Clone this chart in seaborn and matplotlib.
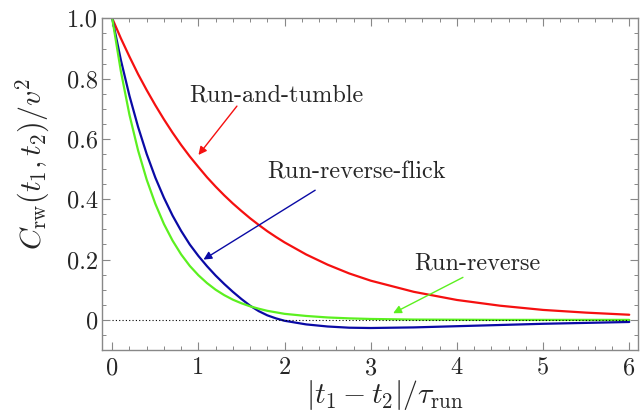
import pandas as pd
import matplotlib
matplotlib.use("Agg")
import matplotlib.pyplot as plt
import seaborn as sns

# time lag |t1 - t2| / tau_run
lag = [0.0, 0.1, 0.2, 0.3, 0.4, 0.5, 0.6, 0.7, 0.8, 0.9, 1.0,
       1.1, 1.2, 1.3, 1.4, 1.5, 1.6, 1.7, 1.8, 1.9, 2.0,
       2.25, 2.5, 2.75, 3.0, 3.5, 4.0, 4.5, 5.0, 5.5, 6.0]

# values
run_and_tumble = [1.000, 0.934, 0.873, 0.815, 0.762, 0.712, 0.665, 0.621, 0.580, 0.542, 0.507,
                  0.473, 0.442, 0.413, 0.386, 0.361, 0.337, 0.315, 0.294, 0.275, 0.257,
                  0.217, 0.183, 0.154, 0.130, 0.093, 0.066, 0.047, 0.033, 0.024, 0.017]
run_reverse_flick = [1.000, 0.862, 0.743, 0.640, 0.550, 0.472, 0.405, 0.346, 0.295, 0.250, 0.212,
                     0.178, 0.147, 0.119, 0.093, 0.069, 0.047, 0.029, 0.015, 0.005, -0.003,
                     -0.015, -0.022, -0.026, -0.027, -0.025, -0.021, -0.017, -0.013, -0.010, -0.007]
run_reverse = [1.000, 0.825, 0.680, 0.562, 0.465, 0.385, 0.318, 0.263, 0.217, 0.179, 0.148,
               0.122, 0.100, 0.082, 0.067, 0.055, 0.045, 0.037, 0.030, 0.025, 0.020,
               0.013, 0.008, 0.005, 0.003, 0.001, 0.0005, 0.0, 0.0, 0.0, 0.0]

models = ["Run-and-tumble", "Run-reverse-flick", "Run-reverse"]
colors = {"Run-and-tumble": "#f51010", "Run-reverse-flick": "#0a0aa5", "Run-reverse": "#5cf020"}

# label text position and arrow (start, tip) for each curve
label_pos = {"Run-and-tumble": (1.90, 0.746),
             "Run-reverse-flick": (2.83, 0.49),
             "Run-reverse": (4.24, 0.188)}
arrow_from = {"Run-and-tumble": (1.447, 0.709),
              "Run-reverse-flick": (2.355, 0.43),
              "Run-reverse": (4.07, 0.141)}
arrow_to = {"Run-and-tumble": (1.001, 0.547),
            "Run-reverse-flick": (1.059, 0.20),
            "Run-reverse": (3.26, 0.022)}

xticks = [0, 1, 2, 3, 4, 5, 6]
yticks = [0.0, 0.2, 0.4, 0.6, 0.8, 1.0]
ytick_labels = ["0", "0.2", "0.4", "0.6", "0.8", "1.0"]

df = pd.concat([
    pd.DataFrame({"lag": lag, "C": run_and_tumble, "model": models[0]}),
    pd.DataFrame({"lag": lag, "C": run_reverse_flick, "model": models[1]}),
    pd.DataFrame({"lag": lag, "C": run_reverse, "model": models[2]}),
])

sns.set_style("ticks")
plt.rcParams["font.family"] = ["cmr10", "DejaVu Serif"]
plt.rcParams["mathtext.fontset"] = "cm"
plt.rcParams["axes.formatter.use_mathtext"] = True

fig = plt.figure(figsize=(6.43, 4.13), dpi=100)
ax = fig.add_axes([0.159, 0.1525, 0.833, 0.803])

sns.lineplot(data=df, x="lag", y="C", hue="model", hue_order=models,
             palette=colors, linewidth=1.6, legend=False, ax=ax)

# dotted zero line
ax.hlines(0, lag[0], lag[-1], colors="black", linestyles=(0, (1, 2)),
          linewidth=0.8, zorder=5)

ax.set_xlim(-0.116, 6.10)
ax.set_ylim(-0.1, 1.0)
ax.set_xticks(xticks)
ax.set_xticklabels([str(t) for t in xticks])
ax.set_yticks(yticks)
ax.set_yticklabels(ytick_labels)
ax.set_xticks([i / 5 for i in range(0, 31)], minor=True)
ax.set_yticks([-0.05] + [i / 20 for i in range(0, 21)], minor=True)

ax.tick_params(which="both", direction="in", top=True, right=True,
               color="#888888", labelsize=17.5)
ax.tick_params(which="major", length=5.5, width=0.8)
ax.tick_params(which="minor", length=3, width=0.7)
ax.tick_params(axis="x", pad=5)
ax.tick_params(axis="y", pad=3)
for sp in ax.spines.values():
    sp.set_color("#888888")
    sp.set_linewidth(1.0)

ax.set_xlabel(r"$|t_1-t_2|/\tau_{\rm run}$", fontsize=21.5)
ax.set_ylabel(r"$C_{\rm rw}(t_1,t_2)/v^2$", fontsize=21.5)
ax.xaxis.set_label_coords(0.528, -0.084)
ax.yaxis.set_label_coords(-0.093, 0.56)

# curve names with arrows
for m in models:
    ax.text(*label_pos[m], m, ha="center", va="center", fontsize=17.5)
    ax.annotate("", xy=arrow_to[m], xytext=arrow_from[m],
                arrowprops=dict(arrowstyle="-|>", color=colors[m], lw=1.0,
                                shrinkA=0, shrinkB=0, mutation_scale=12))

fig.savefig("out.png", dpi=100)
